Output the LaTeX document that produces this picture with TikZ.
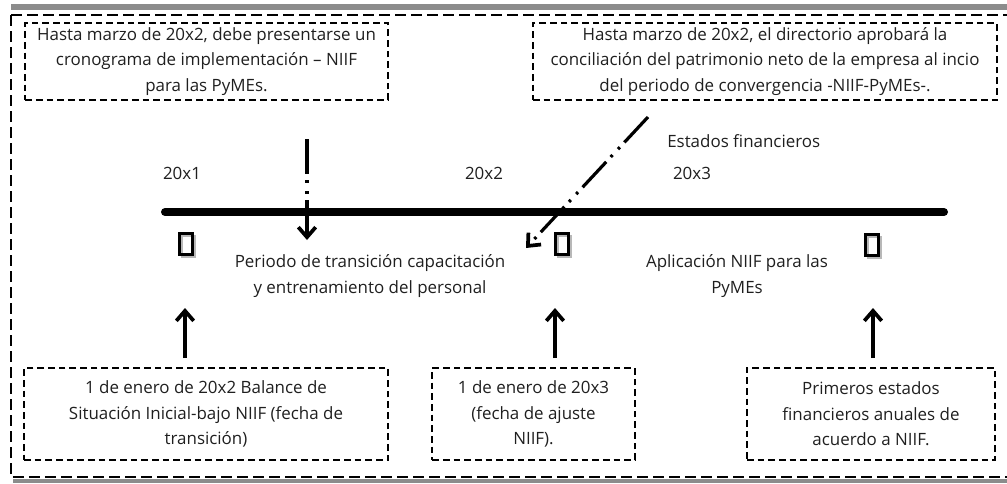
\documentclass[tikz,border=0pt]{standalone}
\usepackage{fontspec}
\setmainfont{Open Sans}
\usetikzlibrary{arrows.meta}
\begin{document}
\begin{tikzpicture}[x=0.75pt,y=-0.75pt,
  txt/.style={font=\fontsize{12.7}{19}\selectfont, text=black!88},
  box/.style={txt, draw=black, line width=1.5pt, dash pattern=on 5pt off 3pt, align=center, inner sep=0pt},
  lbl/.style={txt, align=center, inner sep=0pt},
  glyph/.style={draw=black, line width=1.8pt, minimum width=9.5pt, minimum height=15.5pt, inner sep=0pt},
  glyphshadow/.style={draw=black!28, line width=1.8pt, minimum width=9.5pt, minimum height=15.5pt, inner sep=0pt},
  timeline/.style={line width=6pt, line cap=round},
  tip/.style={-{Straight Barb[length=7.5pt,width=13pt,line width=2.8pt]}},
  uparrow/.style={line width=2.4pt, tip},
  dashdotdot/.style={line width=2.4pt, dash pattern=on 26pt off 5pt on 2pt off 6pt on 2pt off 5pt, tip},
  frame/.style={line width=1.5pt, dash pattern=on 8pt off 4pt},
  shadowline/.style={draw=black!45}
]
\useasboundingbox (0,0) rectangle (1007,483);

% outer frame
\draw[frame] (11,15) -- (1012,15);
\draw[frame] (11,15) -- (11,477) -- (1012,477);
\draw[shadowline, line width=4pt] (11,7) -- (1007,7);
\draw[shadowline, line width=2.5pt] (13,481) -- (1007,481);

% top boxes
\node[box, minimum width=272pt, minimum height=57.75pt] (b1) at (206.5,61.5)
  {Hasta marzo de 20x2, debe presentarse un\\cronograma de implementación – NIIF\\para las PyMEs.};
\node[box, minimum width=348pt, minimum height=57.75pt] (b2) at (765,61.5)
  {Hasta marzo de 20x2, el directorio aprobará la\\conciliación del patrimonio neto de la empresa al incio\\del periodo de convergencia -NIIF-PyMEs-.};

% bottom boxes
\node[box, minimum width=273pt, minimum height=69pt] (b3) at (206,414)
  {1 de enero de 20x2 Balance de\\Situación Inicial-bajo NIIF (fecha de\\transición)};
\node[box, minimum width=152pt, minimum height=69pt] (b4) at (533.5,414)
  {1 de enero de 20x3\\(fecha de ajuste\\NIIF).};
\node[box, minimum width=186pt, minimum height=69pt] (b5) at (871,414)
  {Primeros estados\\financieros anuales de\\acuerdo a NIIF.};

% timeline
\coordinate (t0) at (165,212);
\coordinate (t1) at (944,212);
\draw[timeline] (t0) -- (t1);

% year labels
\node[lbl] (y1) at (182,173) {20x1};
\node[lbl] (y2) at (484,173) {20x2};
\node[lbl] (y3) at (692,173) {20x3};
\node[lbl, anchor=west] (ef) at (667,141) {Estados financieros};

% middle labels
\node[lbl] (per) at (370,276) {Periodo de transición capacitación\\y entrenamiento del personal};
\node[lbl] (apl) at (737,276) {Aplicación NIIF para las\\PyMEs};

% glyph boxes
\node[glyphshadow] at (188.5,246.5) {};
\node[glyph] (g1) at (186,244) {};
\node[glyphshadow] at (564.5,246.5) {};
\node[glyph] (g2) at (562,244) {};
\node[glyphshadow] at (874.5,247.5) {};
\node[glyph] (g3) at (872,245) {};

% dash-dot arrows
\coordinate (d1s) at (307,139);
\coordinate (d1e) at (307,240);
\draw[dashdotdot] (d1s) -- (d1e);
\coordinate (d2s) at (648,117);
\coordinate (d2e) at (526,248);
\draw[dashdotdot] (d2s) -- (d2e);

% up arrows
\coordinate (u1s) at (185,358); \coordinate (u1e) at (185,308);
\coordinate (u2s) at (555,358); \coordinate (u2e) at (555,308);
\coordinate (u3s) at (873,358); \coordinate (u3e) at (873,308);
\draw[uparrow] (u1s) -- (u1e);
\draw[uparrow] (u2s) -- (u2e);
\draw[uparrow] (u3s) -- (u3e);
\end{tikzpicture}
\end{document}
